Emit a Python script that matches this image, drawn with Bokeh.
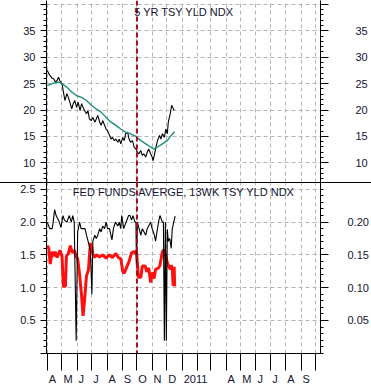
import pandas as pd
from bokeh.plotting import figure
from bokeh.layouts import column
from bokeh.models import Range1d, LinearAxis, FixedTicker, Span, Label, PrintfTickFormatter
from bokeh.embed import file_html
from bokeh.resources import INLINE

FONT = "Liberation Sans"
TXT = "#141430"

# ---------------- data ----------------
top_title = "5 YR TSY YLD NDX"
bot_title = "FED FUNDS AVERGE, 13WK TSY YLD NDX"

# 5 yr treasury yield index (black)
yld_dates = ["2010-04-01", "2010-04-04", "2010-04-07", "2010-04-11", "2010-04-14", "2010-04-18",
             "2010-04-21", "2010-04-24", "2010-04-27",
             "2010-05-01", "2010-05-04", "2010-05-07", "2010-05-11", "2010-05-14", "2010-05-17",
             "2010-05-21", "2010-05-24", "2010-05-27", "2010-05-31", "2010-06-03", "2010-06-07",
             "2010-06-10", "2010-06-13", "2010-06-16", "2010-06-20", "2010-06-23", "2010-06-26",
             "2010-06-30", "2010-07-03", "2010-07-07", "2010-07-10", "2010-07-13", "2010-07-17",
             "2010-07-20", "2010-07-23", "2010-07-27", "2010-07-30", "2010-08-02", "2010-08-06",
             "2010-08-09", "2010-08-12", "2010-08-16", "2010-08-19", "2010-08-23", "2010-08-26",
             "2010-08-29", "2010-09-02", "2010-09-05", "2010-09-08", "2010-09-12", "2010-09-15",
             "2010-09-18", "2010-09-22", "2010-09-25", "2010-09-29", "2010-10-02", "2010-10-05",
             "2010-10-09", "2010-10-12", "2010-10-15", "2010-10-19", "2010-10-22", "2010-10-25",
             "2010-10-29", "2010-11-01", "2010-11-03", "2010-11-06", "2010-11-09", "2010-11-12",
             "2010-11-16", "2010-11-19", "2010-11-22", "2010-11-26", "2010-11-29", "2010-12-02",
             "2010-12-04", "2010-12-08", "2010-12-11", "2010-12-13", "2010-12-16"]
yld_vals = [27.5, 26.9, 26.5, 26.0, 25.9, 25.3,
            25.6, 26.2, 25.5,
            25.0, 23.4, 21.8, 23.1, 22.4, 21.5,
            20.2, 21.2, 21.8, 20.5, 21.5, 19.9,
            21.2, 20.5, 19.9, 19.3, 19.9, 18.3,
            18.0, 18.6, 17.7, 18.3, 19.0, 17.7,
            17.1, 18.0, 17.1, 16.4, 16.1, 15.2,
            14.5, 14.8, 14.2, 14.5, 13.9, 14.5,
            13.6, 14.8, 14.2, 15.5, 15.8, 14.5,
            13.9, 14.2, 13.0, 12.6, 12.0, 11.7,
            12.3, 11.4, 11.7, 11.1, 12.0, 12.6,
            11.7, 11.1, 10.4, 11.7, 13.0, 14.2,
            15.2, 14.5, 15.5, 14.8, 16.4, 15.5,
            17.7, 19.3, 20.9, 20.5, 19.9]

# moving average (teal)
ma_dates = ["2010-04-01", "2010-04-14", "2010-04-24", "2010-05-01", "2010-05-11", "2010-05-21",
            "2010-05-31", "2010-06-10", "2010-06-20", "2010-06-30", "2010-07-10", "2010-07-20",
            "2010-07-30", "2010-08-09", "2010-08-19", "2010-08-29", "2010-09-08", "2010-09-18",
            "2010-09-29", "2010-10-09", "2010-10-19", "2010-10-29", "2010-11-05", "2010-11-12",
            "2010-11-22", "2010-12-02", "2010-12-10", "2010-12-17"]
ma_vals = [24.6, 25.1, 25.3, 25.0, 24.3, 23.4,
           22.7, 22.4, 21.8, 20.9, 20.2, 19.6,
           18.6, 17.7, 17.1, 16.4, 15.8, 15.5,
           15.0, 14.2, 13.6, 13.0, 12.6, 13.0,
           13.6, 14.2, 15.2, 15.9]

# fed funds average (black, right axis)
ff_dates = ["2010-04-01", "2010-04-06", "2010-04-11", "2010-04-13", "2010-04-16", "2010-04-19",
            "2010-04-24", "2010-04-29", "2010-05-03", "2010-05-06", "2010-05-11", "2010-05-16",
            "2010-05-20", "2010-05-23", "2010-05-26", "2010-05-28", "2010-05-30", "2010-06-02",
            "2010-06-06", "2010-06-09", "2010-06-17", "2010-06-20", "2010-06-25", "2010-06-28",
            "2010-07-01", "2010-07-03", "2010-07-07", "2010-07-10", "2010-07-13", "2010-07-17",
            "2010-07-20", "2010-07-23", "2010-07-27", "2010-07-30", "2010-08-02", "2010-08-06",
            "2010-08-11", "2010-08-14", "2010-08-18", "2010-08-23", "2010-08-26", "2010-08-29",
            "2010-08-31", "2010-09-04", "2010-09-08", "2010-09-14", "2010-09-17", "2010-09-20",
            "2010-09-23", "2010-09-27", "2010-09-29", "2010-09-30", "2010-10-02", "2010-10-04",
            "2010-10-09", "2010-10-12", "2010-10-19", "2010-10-22", "2010-10-29", "2010-11-01",
            "2010-11-05", "2010-11-08", "2010-11-14", "2010-11-17", "2010-11-22", "2010-11-24",
            "2010-11-26", "2010-11-28", "2010-11-30", "2010-12-02", "2010-12-04", "2010-12-07",
            "2010-12-10", "2010-12-12", "2010-12-15", "2010-12-18"]
ff_vals = [0.200, 0.190, 0.190, 0.200, 0.219, 0.210,
           0.203, 0.192, 0.210, 0.203, 0.200, 0.210,
           0.200, 0.210, 0.200, 0.111, 0.019, 0.185,
           0.200, 0.190, 0.190, 0.180, 0.166, 0.157,
           0.090, 0.171, 0.180, 0.175, 0.180, 0.190,
           0.185, 0.194, 0.190, 0.200, 0.190, 0.190,
           0.173, 0.190, 0.200, 0.194, 0.200, 0.190,
           0.210, 0.190, 0.198, 0.210, 0.210, 0.203,
           0.210, 0.200, 0.200, 0.135, 0.200, 0.194,
           0.180, 0.190, 0.180, 0.190, 0.200, 0.190,
           0.182, 0.171, 0.200, 0.210, 0.200, 0.200,
           0.019, 0.200, 0.019, 0.189, 0.171, 0.175,
           0.160, 0.189, 0.200, 0.209]

# 13 wk treasury yield index (red, left axis)
tb_dates = ["2010-04-01", "2010-04-04", "2010-04-07", "2010-04-11", "2010-04-14", "2010-04-17",
            "2010-04-21", "2010-04-27", "2010-05-01", "2010-05-04", "2010-05-08", "2010-05-10",
            "2010-05-14", "2010-05-18", "2010-05-22", "2010-05-26", "2010-05-30", "2010-06-02",
            "2010-06-06", "2010-06-10", "2010-06-13", "2010-06-16", "2010-06-20", "2010-06-24",
            "2010-06-28", "2010-07-01", "2010-07-03", "2010-07-07", "2010-07-10", "2010-07-17",
            "2010-07-23", "2010-07-30", "2010-08-06", "2010-08-12", "2010-08-19", "2010-08-24",
            "2010-08-29", "2010-09-02", "2010-09-05", "2010-09-10", "2010-09-15", "2010-09-20",
            "2010-09-25", "2010-09-29", "2010-09-30", "2010-10-04", "2010-10-09", "2010-10-12",
            "2010-10-18", "2010-10-21", "2010-10-25", "2010-10-29", "2010-11-01", "2010-11-05",
            "2010-11-08", "2010-11-14", "2010-11-17", "2010-11-22", "2010-11-25", "2010-11-29",
            "2010-12-02", "2010-12-05", "2010-12-08", "2010-12-10", "2010-12-12", "2010-12-14",
            "2010-12-16", "2010-12-17"]
tb_vals = [1.64, 1.60, 1.36, 1.55, 1.48, 1.55,
           1.46, 1.57, 1.48, 1.02, 1.02, 1.48,
           1.52, 1.64, 1.53, 1.57, 1.48, 1.44,
           1.20, 0.88, 0.57, 0.80, 1.18, 1.27,
           1.68, 1.62, 1.52, 1.46, 1.50, 1.47,
           1.50, 1.45, 1.50, 1.46, 1.52, 1.46,
           1.44, 1.25, 1.22, 1.31, 1.40, 1.53,
           1.55, 1.52, 1.57, 1.16, 1.16, 1.33,
           1.33, 1.24, 1.30, 1.08, 1.23, 1.14,
           1.28, 1.30, 1.34, 1.55, 1.58, 1.48,
           1.38, 1.33, 1.28, 1.34, 1.30, 1.03,
           1.32, 1.02]

# month tick labels (month start -> label)
month_labels = {"2010-04": "A", "2010-05": "M", "2010-06": "J", "2010-07": "J",
                "2010-08": "A", "2010-09": "S", "2010-10": "O", "2010-11": "N",
                "2010-12": "D", "2011-01": "2011", "2011-04": "A", "2011-05": "M",
                "2011-06": "J", "2011-07": "J", "2011-08": "A", "2011-09": "S"}

top_major = [10, 15, 20, 25, 30, 35, 40]
bot_major = [0.0, 0.5, 1.0, 1.5, 2.0, 2.5]
bot_right_major = [0.05, 0.10, 0.15, 0.20]

# ---------------- helpers ----------------
def ms(t):
    return pd.Timestamp(t).value / 1e6

x_start = pd.Timestamp("2010-03-30 10:00")
x_end = pd.Timestamp("2011-10-10 16:00")
FRAME_W = 278
px_per_day = FRAME_W / ((x_end - x_start).total_seconds() / 86400)

month_starts = pd.date_range("2010-04-01", "2011-10-01", freq="MS")
month_ms = [ms(m) for m in month_starts]

char_w = {"A": 7.3, "M": 9.2, "J": 5.5, "S": 7.3, "O": 8.6, "N": 7.9, "D": 7.9,
          "2": 6.1, "0": 6.1, "1": 6.1}
lab_ticks, overrides = [], {}
for k, txt in month_labels.items():
    w = sum(char_w[c] for c in txt)
    off_days = (1.5 + w / 2) / px_per_day
    t = ms(pd.Timestamp(k + "-01") + pd.Timedelta(days=off_days))
    lab_ticks.append(t)
    overrides[t] = txt

oct1 = ms("2010-10-01")
title_x = ms("2011-01-05")

GRID = "#b4b4b4"


def style_yaxis(ax, side):
    ax.axis_line_color = "black"
    ax.major_tick_line_color = "black"
    ax.minor_tick_line_color = "black"
    ax.major_tick_in = 0
    ax.minor_tick_in = 0
    ax.major_label_text_font = FONT
    ax.major_label_text_font_size = "11px"
    ax.major_label_text_color = TXT
    if side == "left":
        ax.major_tick_out = 6
        ax.minor_tick_out = 3
        ax.major_label_standoff = 5
    else:
        ax.major_tick_out = 8
        ax.minor_tick_out = 3


def base_fig(height, yr, bottom_border, x_axis):
    p = figure(width=371, height=height, output_backend="svg", toolbar_location=None,
               x_axis_type="datetime", x_axis_location=x_axis, title=None,
               x_range=Range1d(x_start, x_end), y_range=yr,
               min_border_left=46, min_border_right=47, min_border_top=0,
               min_border_bottom=bottom_border)
    p.outline_line_color = None
    p.border_fill_color = None
    p.background_fill_color = None
    p.xgrid.ticker = FixedTicker(ticks=month_ms)
    p.xgrid.grid_line_color = GRID
    p.xgrid.grid_line_dash = "4 3"
    p.ygrid.grid_line_color = GRID
    p.ygrid.grid_line_dash = "4 3"
    p.add_layout(Span(location=oct1, dimension="height", line_color="#a01018",
                      line_width=2, line_dash="5 3"))
    return p

# ---------------- top panel ----------------
p1 = base_fig(182, Range1d(6.27, 40.74), 0, None)
p1.yaxis.ticker = FixedTicker(ticks=top_major, minor_ticks=list(range(6, 41)))
p1.yaxis.major_label_overrides = {40: ""}
style_yaxis(p1.yaxis[0], "left")
r1 = LinearAxis(ticker=FixedTicker(ticks=top_major, minor_ticks=list(range(6, 41))))
r1.major_label_overrides = {40: ""}
style_yaxis(r1, "right")
r1.major_label_standoff = 27
p1.add_layout(r1, "right")
p1.line(pd.to_datetime(yld_dates), yld_vals, line_color="black", line_width=1.1)
p1.line(pd.to_datetime(ma_dates), ma_vals, line_color="#1e8c7e", line_width=1.4)
p1.add_layout(Label(x=title_x, y=38.5, text=top_title, text_align="center",
                    text_baseline="middle", text_font=FONT, text_font_size="11px",
                    text_color=TXT))

# ---------------- bottom panel ----------------
p2 = base_fig(205, Range1d(-0.004, 2.604), 17, "below")
p2.extra_y_ranges = {"r": Range1d(-0.0004, 0.2604)}
p2.yaxis.ticker = FixedTicker(ticks=bot_major, minor_ticks=[i / 10 for i in range(0, 27)])
p2.yaxis.formatter = PrintfTickFormatter(format="%.1f")
p2.yaxis.major_label_overrides = {0: ""}
style_yaxis(p2.yaxis[0], "left")
r2 = LinearAxis(y_range_name="r",
                ticker=FixedTicker(ticks=bot_right_major, minor_ticks=[i / 100 for i in range(0, 27)]),
                formatter=PrintfTickFormatter(format="%.2f"))
style_yaxis(r2, "right")
r2.major_label_standoff = 19
p2.add_layout(r2, "right")

xa = p2.xaxis[0]
xa.ticker = FixedTicker(ticks=lab_ticks, minor_ticks=month_ms)
xa.major_label_overrides = overrides
xa.major_tick_out = 0
xa.major_tick_in = 0
xa.minor_tick_out = 17
xa.minor_tick_in = 0
xa.minor_tick_line_color = "black"
xa.axis_line_color = "black"
xa.major_label_standoff = 2
xa.major_label_text_font = FONT
xa.major_label_text_font_size = "11px"
xa.major_label_text_color = TXT

p2.line(pd.to_datetime(tb_dates), tb_vals, line_color="#ff1010", line_width=3)
p2.line(pd.to_datetime(ff_dates), ff_vals, y_range_name="r", line_color="black", line_width=1.1)
p2.add_layout(Label(x=title_x, y=2.46, text=bot_title, text_align="center",
                    text_baseline="middle", text_font=FONT, text_font_size="11px",
                    text_color=TXT))
p2.styles = {"box-shadow": "inset 0 1px 0 0 #000000"}

layout = column(p1, p2, spacing=0)
open("out.html", "w").write(file_html(layout, INLINE, title="chart"))
